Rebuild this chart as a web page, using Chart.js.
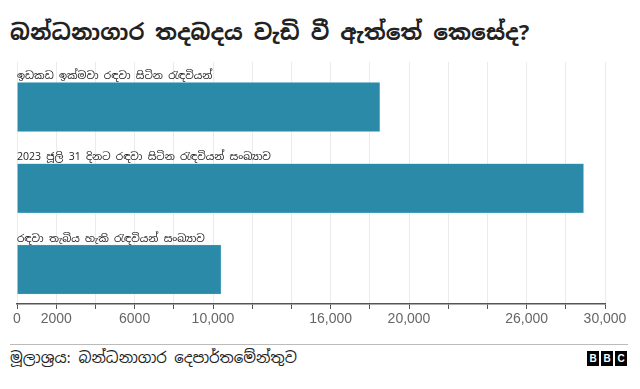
<!DOCTYPE html>
<html>
<head>
<meta charset="utf-8">
<script src="https://cdn.jsdelivr.net/npm/chart.js@4"></script>
<style>
  html, body { margin: 0; padding: 0; background: #fff; }
  body { width: 640px; height: 389px; position: relative; overflow: hidden;
         font-family: "Noto Sans Sinhala", "Noto Sans", "DejaVu Sans", sans-serif; }
  #title { position: absolute; left: 10px; top: 14px; font-size: 22px; font-weight: bold; color: #222; white-space: nowrap; line-height: 36px; }
  #wrap { position: absolute; left: 0; top: 60px; width: 640px; height: 270px; }
  #rule { position: absolute; left: 10px; width: 618px; top: 344px; height: 0; border-top: 1px solid #bbb; }
  #source { position: absolute; left: 10px; top: 347px; font-size: 15px; color: #222; white-space: nowrap; line-height: 22px; }
  #bbc { position: absolute; left: 587px; top: 351px; display: flex; gap: 2px; }
  #bbc span { display: block; width: 12px; height: 15px; background: #000; color: #fff; font: bold 10px "Liberation Sans", Arial, sans-serif; text-align: center; line-height: 15px; }
</style>
</head>
<body>
<div id="title">බන්ධනාගාර තදබදය වැඩි වී ඇත්තේ කෙසේද?</div>
<div id="wrap"><canvas id="c"></canvas></div>
<div id="rule"></div>
<div id="source">මූලාශ්‍රය: බන්ධනාගාර දෙපාර්තමේන්තුව</div>
<div id="bbc"><span>B</span><span>B</span><span>C</span></div>
<script>
const categories = [
  "ඉඩකඩ ඉක්මවා රඳවා සිටින රැඳවියන්",
  "2023 ජූලි 31 දිනට රඳවා සිටින රැඳවියන් සංඛ්‍යාව",
  "රඳවා තැබිය හැකි රැඳවියන් සංඛ්‍යාව"
];
const values = [18500, 28900, 10400];
const tickLabels = [0, 2000, 6000, 10000, 16000, 20000, 26000, 30000];

const labelPlugin = {
  id: 'catLabels',
  afterDatasetsDraw(chart) {
    const ctx = chart.ctx;
    const meta = chart.getDatasetMeta(0);
    ctx.save();
    ctx.font = '10.5px "Noto Sans Sinhala", "Noto Sans", "DejaVu Sans", sans-serif';
    ctx.fillStyle = '#222';
    ctx.textAlign = 'left';
    ctx.textBaseline = 'bottom';
    meta.data.forEach((bar, i) => {
      const left = chart.scales.x.getPixelForValue(0);
      ctx.fillText(categories[i], left, bar.y - bar.height / 2 - 1);
    });
    ctx.restore();
  }
};

new Chart(document.getElementById('c'), {
  type: 'bar',
  data: {
    datasets: [{
      data: values.map((v, i) => ({ x: v, y: i })),
      backgroundColor: '#2a8aa8',
      borderColor: '#5fb0c8',
      borderWidth: 0.6,
      barThickness: 49
    }]
  },
  options: {
    indexAxis: 'y',
    responsive: true,
    maintainAspectRatio: false,
    animation: false,
    layout: { padding: { left: 17, right: 35, top: 2, bottom: 1 } },
    plugins: { legend: { display: false }, tooltip: { enabled: false } },
    scales: {
      y: {
        type: 'linear', display: false, reverse: true, offset: false,
        grid: { offset: false },
        min: -0.554, max: 2.425,
        afterBuildTicks: (s) => { s.min = -0.554; s.max = 2.425; }
      },
      x: {
        type: 'linear', min: 0, max: 30000,
        grid: { color: '#ebebeb', lineWidth: 1, tickLength: 5, tickColor: '#555', drawTicks: true },
        border: { color: '#555', width: 1.5 },
        afterFit: (s) => { s.height = 25; },
        ticks: {
          stepSize: 2000, autoSkip: false, maxRotation: 0, padding: 2,
          color: '#666',
          font: { size: 14, family: '"Liberation Sans", Arial, sans-serif' },
          callback: (v) => tickLabels.includes(v) ? (v >= 10000 ? v.toLocaleString('en-US') : String(v)) : ''
        }
      }
    }
  },
  plugins: [labelPlugin]
});
</script>
</body>
</html>
